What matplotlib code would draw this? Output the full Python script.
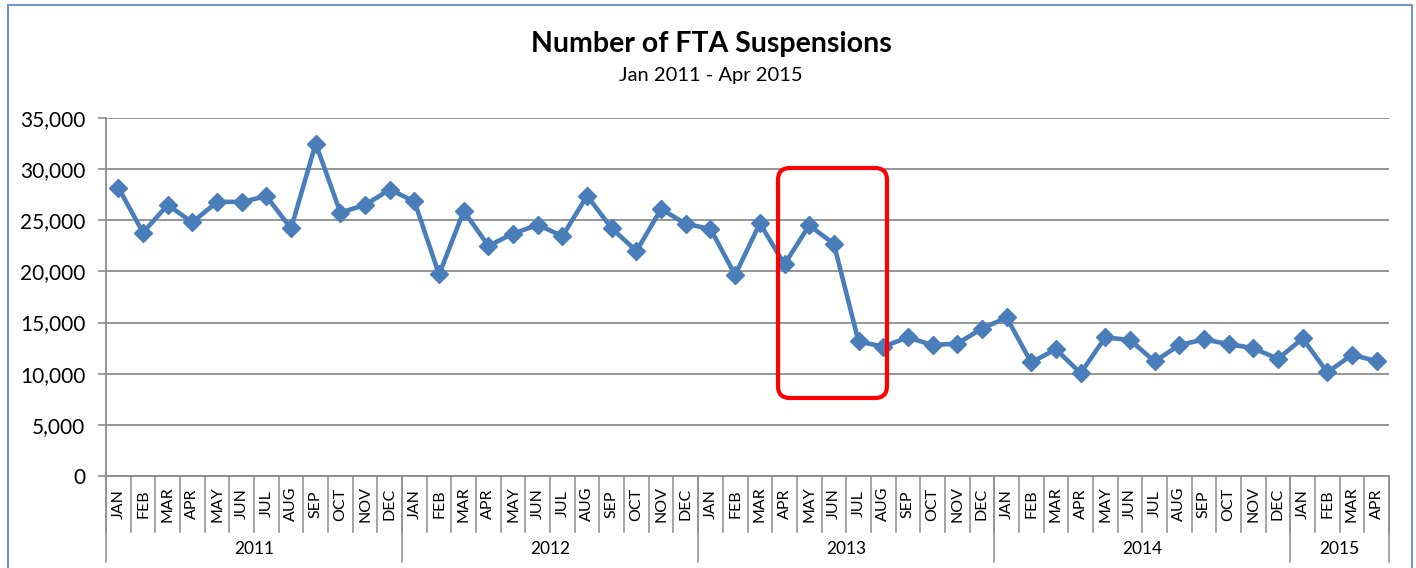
import matplotlib
matplotlib.use("Agg")
import matplotlib.pyplot as plt
import matplotlib.transforms as mtransforms
from matplotlib.patches import FancyBboxPatch, Rectangle

months = ["JAN", "FEB", "MAR", "APR", "MAY", "JUN", "JUL", "AUG", "SEP", "OCT", "NOV", "DEC"]
years = ["2011", "2012", "2013", "2014", "2015"]
months_per_year = [12, 12, 12, 12, 4]

values_2011 = [28200, 23800, 26500, 24800, 26800, 26800, 27350, 24200, 32500, 25750, 26500, 28000]
values_2012 = [26850, 19700, 25900, 22500, 23700, 24550, 23450, 27400, 24200, 22000, 26100, 24650]
values_2013 = [24150, 19650, 24700, 20700, 24500, 22700, 13150, 12650, 13550, 12800, 12950, 14400]
values_2014 = [15500, 11100, 12400, 10050, 13550, 13300, 11200, 12800, 13350, 12900, 12500, 11450]
values_2015 = [13450, 10130, 11850, 11230]

values = values_2011 + values_2012 + values_2013 + values_2014 + values_2015
labels = []
for n in months_per_year:
    labels += months[:n]

plt.rcParams['font.family'] = ['Lato', 'DejaVu Sans']

fig = plt.figure(figsize=(14.16, 5.68), dpi=100)
W, H = 1416, 568
ax = fig.add_axes([106 / W, 1 - 476 / H, (1389 - 106) / W, (476 - 118) / H])

x = list(range(len(values)))
ax.plot(x, values, color='#4A7EBB', linewidth=3.3, marker='D', markersize=9,
        markerfacecolor='#4A7EBB', markeredgecolor='#4A7EBB', zorder=3)

ax.set_xlim(-0.5, len(values) - 0.5)
ax.set_ylim(0, 35000)
ax.set_yticks(range(0, 35001, 5000))
ax.set_yticklabels([f"{v:,}" for v in range(0, 35001, 5000)], fontsize=15)
ax.yaxis.grid(True, color='#8C8C8C', linewidth=1.3)
ax.set_axisbelow(True)
ax.tick_params(axis='y', length=6, width=1.2, color='#8C8C8C', pad=9)
for s in ['top', 'right']:
    ax.spines[s].set_visible(False)
ax.spines['left'].set_color('#8C8C8C')
ax.spines['left'].set_linewidth(1.3)
ax.spines['bottom'].set_color('#8C8C8C')
ax.spines['bottom'].set_linewidth(1.3)

# month tick labels
ax.set_xticks(x)
ax.set_xticklabels([])
ax.tick_params(axis='x', which='major', length=0)
trans = mtransforms.blended_transform_factory(ax.transData, ax.transAxes)
ah = 476 - 118
for i, lab in enumerate(labels):
    ax.text(i, -28 / ah, lab, rotation=90, ha='center', va='center',
            fontsize=11.5, transform=trans, clip_on=False)

# month separators
for i in range(len(values) + 1):
    ax.plot([i - 0.5, i - 0.5], [0, -56 / ah], color='#8C8C8C', linewidth=1.1,
            transform=trans, clip_on=False)

# year separators and labels
start = 0
for yr, n in zip(years, months_per_year):
    ax.plot([start - 0.5, start - 0.5], [0, -86 / ah], color='#8C8C8C', linewidth=1.1,
            transform=trans, clip_on=False)
    ax.text(start + n / 2 - 0.5, -73 / ah, yr, ha='center', va='center',
            fontsize=12.5, transform=trans, clip_on=False)
    start += n
ax.plot([start - 0.5, start - 0.5], [0, -86 / ah], color='#8C8C8C', linewidth=1.1,
        transform=trans, clip_on=False)

# red highlight box
pad_px = 12
rect = FancyBboxPatch(((778 + pad_px) / W, (H - 398 + pad_px) / H),
                      (887 - 778 - 2 * pad_px) / W, (398 - 168 - 2 * pad_px) / H,
                      boxstyle=f"round,pad={pad_px / W}",
                      transform=fig.transFigure, fill=False, edgecolor='#FF0000',
                      linewidth=3.0, zorder=5, mutation_aspect=W / H)
fig.patches.append(rect)

# titles
fig.text(711 / W, 1 - 44 / H, "Number of FTA Suspensions", ha='center', va='center',
         fontsize=20.5, fontweight='bold')
fig.text(711 / W, 1 - 76 / H, "Jan 2011 - Apr 2015", ha='center', va='center',
         fontsize=14.5)

# outer border
border = Rectangle((8 / W, -0.05), (1412 - 8) / W, (1 - 5 / H) + 0.05,
                   transform=fig.transFigure, fill=False, edgecolor='#6E96CB',
                   linewidth=1.5)
fig.patches.append(border)

fig.savefig("out.png", dpi=100)
